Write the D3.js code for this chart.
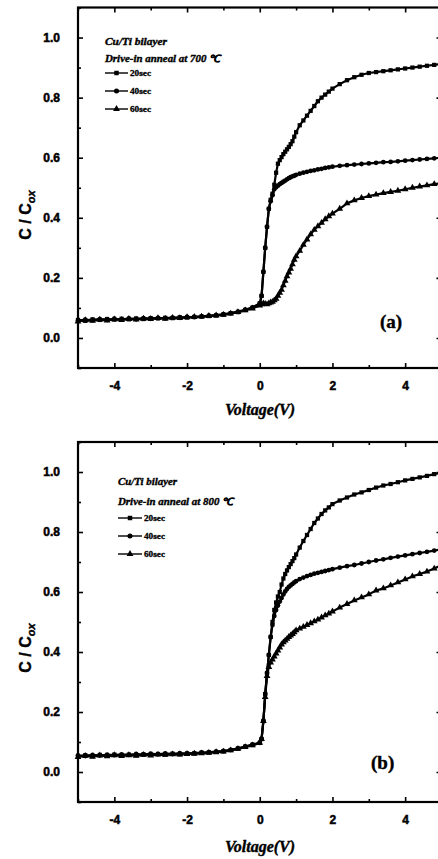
<!DOCTYPE html>
<html>
<head>
<meta charset="utf-8">
<script src="https://cdn.jsdelivr.net/npm/d3@7"></script>
<style>
  body { margin: 0; background: #fff; }
  svg { display: block; }
</style>
</head>
<body>
<svg></svg>
<script>
// shared voltage grid (V)
var voltage = [
  -5.0, -4.8, -4.6, -4.4, -4.2, -4.0, -3.8, -3.6, -3.4, -3.2, -3.0, -2.8, -2.6,
  -2.4, -2.2, -2.0, -1.8, -1.6, -1.4, -1.2, -1.0, -0.8, -0.6, -0.4, -0.2,
  0.0, 0.05, 0.1, 0.15, 0.2, 0.25, 0.3, 0.35, 0.4, 0.45, 0.5, 0.55, 0.6, 0.65,
  0.7, 0.75, 0.8, 0.85, 0.9, 0.95, 1.0,
  1.1, 1.2, 1.3, 1.4, 1.5, 1.6, 1.7, 1.8, 1.9, 2.0,
  2.2, 2.4, 2.6, 2.8, 3.0, 3.2, 3.4, 3.6, 3.8, 4.0, 4.2, 4.4, 4.6, 4.8, 5.0
];

// panel (a) : anneal at 700 C
var a20sec = [
  0.060, 0.057, 0.062, 0.060, 0.063, 0.061, 0.064, 0.062, 0.065, 0.063, 0.066, 0.065, 0.067,
  0.066, 0.069, 0.068, 0.070, 0.071, 0.073, 0.075, 0.078, 0.082, 0.086, 0.093, 0.100,
  0.115, 0.140, 0.220, 0.300, 0.370, 0.430, 0.460, 0.480, 0.510, 0.550, 0.580, 0.592, 0.602, 0.612,
  0.620, 0.628, 0.636, 0.645, 0.655, 0.670, 0.685,
  0.708, 0.724, 0.740, 0.756, 0.772, 0.788, 0.800, 0.810, 0.820, 0.830,
  0.845, 0.858, 0.868, 0.876, 0.882, 0.885, 0.888, 0.891, 0.894, 0.897, 0.900, 0.903, 0.906, 0.909, 0.912
];
var a40sec = [
  0.058, 0.061, 0.059, 0.063, 0.060, 0.064, 0.061, 0.065, 0.062, 0.066, 0.064, 0.067, 0.065,
  0.068, 0.067, 0.070, 0.069, 0.072, 0.074, 0.076, 0.079, 0.083, 0.088, 0.094, 0.102,
  0.115, 0.140, 0.220, 0.300, 0.370, 0.430, 0.455, 0.475, 0.495, 0.502, 0.507, 0.512, 0.516, 0.520,
  0.524, 0.528, 0.532, 0.535, 0.538, 0.540, 0.543,
  0.547, 0.550, 0.553, 0.556, 0.558, 0.561, 0.563, 0.566, 0.568, 0.570,
  0.573, 0.575, 0.577, 0.579, 0.581, 0.583, 0.585, 0.586, 0.588, 0.590, 0.592, 0.594, 0.596, 0.598, 0.600
];
var a60sec = [
  0.055, 0.059, 0.057, 0.061, 0.058, 0.062, 0.060, 0.063, 0.061, 0.064, 0.063, 0.066, 0.064,
  0.067, 0.066, 0.069, 0.070, 0.071, 0.073, 0.075, 0.077, 0.081, 0.086, 0.092, 0.098,
  0.108, 0.112, 0.115, 0.113, 0.112, 0.115, 0.118, 0.120, 0.125, 0.130, 0.140, 0.150, 0.160, 0.175,
  0.190, 0.205, 0.218, 0.230, 0.245, 0.260, 0.272,
  0.290, 0.310, 0.328, 0.345, 0.360, 0.372, 0.383, 0.395, 0.405, 0.414,
  0.430, 0.448, 0.458, 0.466, 0.472, 0.477, 0.482, 0.486, 0.490, 0.495, 0.500, 0.504, 0.508, 0.512, 0.515
];

// panel (b) : anneal at 800 C
var b20sec = [
  0.052, 0.056, 0.053, 0.057, 0.054, 0.058, 0.055, 0.058, 0.056, 0.059, 0.057, 0.060, 0.058,
  0.061, 0.059, 0.062, 0.062, 0.064, 0.065, 0.067, 0.069, 0.073, 0.078, 0.084, 0.090,
  0.097, 0.110, 0.170, 0.260, 0.330, 0.390, 0.450, 0.500, 0.540, 0.565, 0.585, 0.600, 0.625, 0.645,
  0.660, 0.672, 0.683, 0.693, 0.703, 0.713, 0.725,
  0.748, 0.770, 0.790, 0.810, 0.830, 0.845, 0.860, 0.872, 0.882, 0.893,
  0.905, 0.915, 0.925, 0.932, 0.940, 0.948, 0.955, 0.960, 0.966, 0.972, 0.977, 0.982, 0.987, 0.993, 0.998
];
var b40sec = [
  0.055, 0.053, 0.057, 0.055, 0.058, 0.056, 0.059, 0.057, 0.060, 0.058, 0.061, 0.059, 0.062,
  0.060, 0.063, 0.061, 0.063, 0.065, 0.066, 0.068, 0.070, 0.074, 0.079, 0.085, 0.092,
  0.097, 0.110, 0.170, 0.260, 0.330, 0.390, 0.450, 0.490, 0.520, 0.540, 0.555, 0.568, 0.580, 0.592,
  0.602, 0.610, 0.617, 0.622, 0.627, 0.632, 0.636,
  0.643, 0.648, 0.653, 0.657, 0.661, 0.664, 0.667, 0.670, 0.673, 0.676,
  0.681, 0.686, 0.690, 0.695, 0.700, 0.705, 0.709, 0.714, 0.718, 0.722, 0.726, 0.730, 0.734, 0.738, 0.742
];
var b60sec = [
  0.050, 0.054, 0.051, 0.055, 0.052, 0.056, 0.053, 0.056, 0.054, 0.057, 0.055, 0.058, 0.057,
  0.059, 0.058, 0.060, 0.061, 0.062, 0.064, 0.066, 0.068, 0.072, 0.077, 0.083, 0.089,
  0.097, 0.110, 0.170, 0.250, 0.320, 0.350, 0.365, 0.375, 0.385, 0.395, 0.405, 0.415, 0.425, 0.432,
  0.438, 0.444, 0.450, 0.455, 0.460, 0.466, 0.472,
  0.478, 0.484, 0.490, 0.496, 0.502, 0.508, 0.515, 0.522, 0.528, 0.535,
  0.548, 0.560, 0.572, 0.582, 0.592, 0.605, 0.612, 0.622, 0.632, 0.642, 0.652, 0.660, 0.668, 0.678, 0.690
];

var seriesNames = ["20sec", "40sec", "60sec"];
var xTicks = [-4, -2, 0, 2, 4];
var xMinor = [-5, -3, -1, 1, 3, 5];
var yTicks = [0.0, 0.2, 0.4, 0.6, 0.8, 1.0];
var yMinor = [-0.1, 0.1, 0.3, 0.5, 0.7, 0.9, 1.1];

var svg = d3.select("svg").attr("width", 438).attr("height", 859);

var symbols = [d3.symbolSquare, d3.symbolCircle, d3.symbolTriangle];
var symSize = [18, 18, 20];
var serif = "Liberation Serif, Times New Roman, serif";
var sans = "Liberation Sans, Arial, sans-serif";

function drawPanel(cfg) {
  var x = d3.scaleLinear().domain([-5, 5]).range([78, 441.5]);
  var y = d3.scaleLinear().domain([-0.1, 1.1]).range([cfg.bottom, cfg.top]);
  var g = svg.append("g");

  // minor + major ticks on all four sides, pointing inward
  function ticks(axisFn, pos, vals, size, transform) {
    var a = g.append("g").attr("transform", transform)
      .call(axisFn(pos).tickValues(vals).tickSize(-size).tickFormat(""));
    a.select(".domain").remove();
    a.selectAll("line").attr("stroke", "#000").attr("stroke-width", 1.6);
  }
  ticks(d3.axisBottom, x, xMinor, 3, "translate(0," + y(-0.1) + ")");
  ticks(d3.axisTop, x, xMinor, 3, "translate(0," + y(1.1) + ")");
  ticks(d3.axisTop, x, xTicks, 5, "translate(0," + y(1.1) + ")");
  ticks(d3.axisLeft, y, yMinor, 3, "translate(" + x(-5) + ",0)");
  ticks(d3.axisRight, y, yMinor, 3, "translate(" + x(5) + ",0)");
  ticks(d3.axisRight, y, yTicks, 5, "translate(" + x(5) + ",0)");

  var xa = g.append("g").attr("transform", "translate(0," + y(-0.1) + ")")
    .call(d3.axisBottom(x).tickValues(xTicks).tickSize(-5).tickPadding(13)
      .tickFormat(function (d) { return String(d); }));
  var ya = g.append("g").attr("transform", "translate(" + x(-5) + ",0)")
    .call(d3.axisLeft(y).tickValues(yTicks).tickSize(-5).tickPadding(18)
      .tickFormat(d3.format(".1f")));
  [xa, ya].forEach(function (a) {
    a.select(".domain").remove();
    a.selectAll("line").attr("stroke", "#000").attr("stroke-width", 1.6);
    a.selectAll("text").attr("font-family", sans)
      .attr("font-weight", "bold").attr("font-size", 12).attr("fill", "#000")
      .attr("stroke", "#000").attr("stroke-width", 0.5);
  });

  // frame
  g.append("rect")
    .attr("x", x(-5)).attr("y", y(1.1))
    .attr("width", x(5) - x(-5)).attr("height", y(-0.1) - y(1.1))
    .attr("fill", "none").attr("stroke", "#000").attr("stroke-width", 2.2);

  // curves
  var line = d3.line().x(function (d) { return x(d[0]); }).y(function (d) { return y(d[1]); });
  cfg.series.forEach(function (vals, i) {
    var pts = voltage.map(function (v, k) { return [v, vals[k]]; });
    g.append("path").datum(pts).attr("d", line)
      .attr("fill", "none").attr("stroke", "#000").attr("stroke-width", 2.2)
      .attr("stroke-linejoin", "round");
    g.append("g").selectAll("path").data(pts).enter().append("path")
      .attr("transform", function (d) { return "translate(" + x(d[0]) + "," + y(d[1]) + ")"; })
      .attr("d", d3.symbol().type(symbols[i]).size(symSize[i]))
      .attr("fill", "#000");
  });

  // legend
  function legendText(tx, ty, str, len, size) {
    g.append("text").attr("x", tx).attr("y", ty)
      .attr("font-family", serif).attr("font-style", "italic").attr("font-weight", "bold")
      .attr("font-size", size).attr("stroke", "#000").attr("stroke-width", 0.35)
      .attr("textLength", len).attr("lengthAdjust", "spacingAndGlyphs")
      .text(str);
  }
  legendText(cfg.lx, cfg.ly1, "Cu/Ti bilayer", cfg.len1, 10);
  legendText(cfg.lx, cfg.ly2, cfg.anneal, cfg.len2, 10);
  seriesNames.forEach(function (name, i) {
    var cy = cfg.rowY + i * 18;
    g.append("line").attr("x1", cfg.lx).attr("x2", cfg.lx + cfg.lineLen)
      .attr("y1", cy).attr("y2", cy).attr("stroke", "#000").attr("stroke-width", 1.4);
    g.append("path").attr("transform", "translate(" + (cfg.lx + cfg.lineLen / 2) + "," + cy + ")")
      .attr("d", d3.symbol().type(symbols[i]).size(20)).attr("fill", "#000");
    g.append("text").attr("x", cfg.lx + cfg.lineLen + 2).attr("y", cy + 3)
      .attr("font-family", serif).attr("font-weight", "bold")
      .attr("font-size", 8.5).attr("stroke", "#000").attr("stroke-width", 0.3)
      .attr("textLength", 21).attr("lengthAdjust", "spacingAndGlyphs")
      .text(name);
  });

  // panel tag
  g.append("text").attr("x", cfg.tagX).attr("y", cfg.tagY)
    .attr("font-family", serif).attr("stroke", "#000").attr("stroke-width", 0.4)
    .attr("font-weight", "bold").attr("font-size", 19).text(cfg.tag);

  // axis titles
  g.append("text").attr("x", 260).attr("y", cfg.xtY).attr("text-anchor", "middle")
    .attr("font-family", serif).attr("stroke", "#000").attr("stroke-width", 0.4)
    .attr("font-style", "italic").attr("font-weight", "bold").attr("font-size", 16)
    .text("Voltage(V)");
  var yt = g.append("text")
    .attr("transform", "translate(31," + cfg.ytY + ") rotate(-90)")
    .attr("text-anchor", "middle")
    .attr("font-family", sans).attr("stroke", "#000").attr("stroke-width", 0.4)
    .attr("font-weight", "bold").attr("font-size", 16);
  yt.append("tspan").text("C / C");
  yt.append("tspan").attr("font-size", 11).attr("font-style", "italic")
    .attr("dy", 4).text("ox");
}

drawPanel({
  top: 7.5, bottom: 368, series: [a20sec, a40sec, a60sec],
  lx: 105, ly1: 45, ly2: 62, len1: 62, len2: 115, rowY: 73, lineLen: 23,
  anneal: "Drive-in anneal at 700 \u2103",
  tag: "(a)", tagX: 380, tagY: 328, xtY: 415, ytY: 215
});
drawPanel({
  top: 442, bottom: 802, series: [b20sec, b40sec, b60sec],
  lx: 118, ly1: 485, ly2: 505, len1: 59, len2: 115, rowY: 518, lineLen: 24,
  anneal: "Drive-in anneal at 800 \u2103",
  tag: "(b)", tagX: 371, tagY: 769, xtY: 852, ytY: 648
});
</script>
</body>
</html>
